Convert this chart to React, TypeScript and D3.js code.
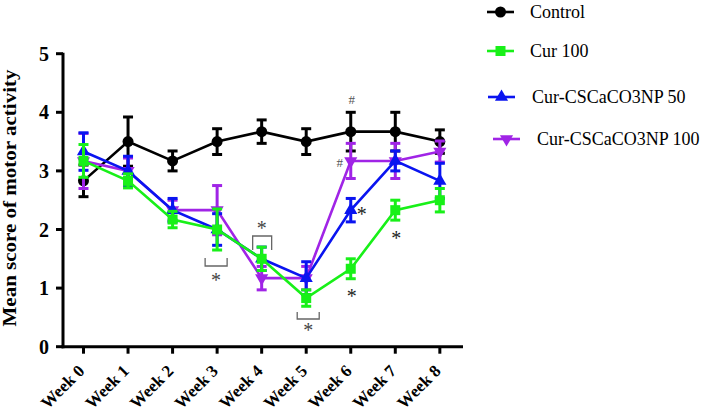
import React from "react";
import * as d3 from "d3";

const weeks = ["Week 0", "Week 1", "Week 2", "Week 3", "Week 4", "Week 5", "Week 6", "Week 7", "Week 8"];
const yTicks = [0, 1, 2, 3, 4, 5];

const controlMean = [2.83, 3.5, 3.17, 3.5, 3.67, 3.5, 3.67, 3.67, 3.5];
const controlErr = [0.27, 0.42, 0.17, 0.22, 0.2, 0.22, 0.33, 0.33, 0.2];
const cur100Mean = [3.17, 2.83, 2.17, 2.0, 1.5, 0.83, 1.33, 2.33, 2.5];
const cur100Err = [0.28, 0.12, 0.14, 0.35, 0.2, 0.14, 0.17, 0.17, 0.2];
const np50Mean = [3.33, 3.0, 2.33, 2.0, 1.5, 1.17, 2.33, 3.17, 2.83];
const np50Err = [0.32, 0.25, 0.2, 0.27, 0.2, 0.28, 0.2, 0.17, 0.3];
const np100Mean = [3.17, 3.0, 2.33, 2.33, 1.17, 1.17, 3.17, 3.17, 3.33];
const np100Err = [0.47, 0.22, 0.17, 0.42, 0.2, 0.2, 0.3, 0.3, 0.18];

const seriesNames = ["Control", "Cur 100", "Cur-CSCaCO3NP 50", "Cur-CSCaCO3NP 100"];
const seriesColors = ["#000000", "#18f018", "#0a14f0", "#a024e6"];
const seriesMarkers = ["circle", "square", "triUp", "triDown"];

const W = 709;
const H = 415;
const SERIF = "Liberation Serif, Times New Roman, DejaVu Serif, serif";

function Marker({ type, x, y, color }: { type: string; x: number; y: number; color: string }) {
  if (type === "circle") return <circle cx={x} cy={y} r={5.5} fill={color} />;
  if (type === "square") return <rect x={x - 5} y={y - 5} width={10} height={10} fill={color} />;
  const sym = d3.symbol().type(d3.symbolTriangle).size(75)();
  if (type === "triUp")
    return <path d={sym || ""} transform={`translate(${x},${y})`} fill={color} />;
  return <path d={sym || ""} transform={`translate(${x},${y}) rotate(180)`} fill={color} />;
}

function T(props: any) {
  const { style, ...rest } = props;
  return <text {...rest} style={{ fontFamily: SERIF, ...(style || {}) }} />;
}

export default function App() {
  const x = d3.scaleLinear().domain([-0.46, 8.52]).range([63, 463]);
  const y = d3.scaleLinear().domain([0, 5]).range([346.7, 53.7]);
  const idx = weeks.map((_, i) => i);

  const means = [controlMean, cur100Mean, np50Mean, np100Mean];
  const errs = [controlErr, cur100Err, np50Err, np100Err];
  const drawOrder = [0, 3, 2, 1];

  const line = d3
    .line<number>()
    .x((d, i) => x(i))
    .y((d) => y(d));

  const legendY = [12, 51, 97, 139];
  const legendX0 = [487, 487, 488, 493];
  const legendTextX = [530, 530, 532, 537];

  return (
    <svg width={W} height={H} style={{ position: "absolute", left: 0, top: 0 }}>
      <rect width={W} height={H} fill="#fff" />
      {/* axes */}
      <line x1={63} x2={63} y1={y(5) - 1} y2={y(0) + 1.5} stroke="#000" strokeWidth={3} />
      <line x1={61.5} x2={463} y1={y(0)} y2={y(0)} stroke="#000" strokeWidth={3} />
      {yTicks.map((t) => (
        <g key={t}>
          <line x1={56} x2={63} y1={y(t)} y2={y(t)} stroke="#000" strokeWidth={3} />
          <T x={49} y={y(t)} dy="0.35em" textAnchor="end" fontSize={20} fontWeight="bold">
            {t}
          </T>
        </g>
      ))}
      {idx.map((i) => (
        <g key={i}>
          <line x1={x(i)} x2={x(i)} y1={y(0)} y2={y(0) + 7} stroke="#000" strokeWidth={3} />
          <T
            transform={`translate(${x(i) + 2},${372}) rotate(-45)`}
            textAnchor="end"
            fontSize={17}
            fontWeight="bold"
          >
            {weeks[i]}
          </T>
        </g>
      ))}
      <T
        transform={`translate(16,198) rotate(-90)`}
        textAnchor="middle"
        fontSize={18}
        fontWeight="bold"
        textLength={257}
        lengthAdjust="spacingAndGlyphs"
      >
        Mean score of motor activity
      </T>

      {/* series */}
      {drawOrder.map((s) => (
        <g key={s}>
          <path d={line(means[s]) || ""} fill="none" stroke={seriesColors[s]} strokeWidth={2.6} />
          {means[s].map((m, i) => (
            <g key={i} stroke={seriesColors[s]} strokeWidth={3}>
              <line x1={x(i)} x2={x(i)} y1={y(m - errs[s][i])} y2={y(m + errs[s][i])} />
              <line x1={x(i) - 5} x2={x(i) + 5} y1={y(m + errs[s][i])} y2={y(m + errs[s][i])} />
              <line x1={x(i) - 5} x2={x(i) + 5} y1={y(m - errs[s][i])} y2={y(m - errs[s][i])} />
            </g>
          ))}
          {means[s].map((m, i) => (
            <Marker key={"m" + i} type={seriesMarkers[s]} x={x(i)} y={y(m)} color={seriesColors[s]} />
          ))}
        </g>
      ))}

      {/* annotations */}
      <T x={x(6) + 1} y={y(4) - 8} textAnchor="middle" fontSize={13} fill="#555">#</T>
      <T x={x(6) - 11} y={y(3.17) + 6} textAnchor="middle" fontSize={13} fill="#555">#</T>
      <T x={x(6) + 11} y={y(2.33) + 11} textAnchor="middle" fontSize={20} fill="#222">*</T>
      <T x={x(7) + 1} y={y(2.0) + 15} textAnchor="middle" fontSize={20} fill="#222">*</T>
      <T x={x(6) + 1} y={y(1.0) + 15} textAnchor="middle" fontSize={20} fill="#222">*</T>

      {/* brackets */}
      <path d={`M${x(3) - 12},${258} V${266} H${x(3) + 10} V${258}`} fill="none" stroke="#666" strokeWidth={1.3} />
      <T x={x(3) - 1} y={287} textAnchor="middle" fontSize={20} fill="#444">*</T>
      <path d={`M${x(4) - 9},${250} V${236} H${x(4) + 10} V${250}`} fill="none" stroke="#666" strokeWidth={1.3} />
      <T x={x(4)} y={235} textAnchor="middle" fontSize={20} fill="#444">*</T>
      <path d={`M${x(5) - 9},${312} V${319} H${x(5) + 13} V${312}`} fill="none" stroke="#666" strokeWidth={1.3} />
      <T x={x(5) + 2} y={337} textAnchor="middle" fontSize={20} fill="#444">*</T>

      {/* legend */}
      {seriesNames.map((n, s) => (
        <g key={n}>
          <line x1={legendX0[s]} x2={legendX0[s] + 27} y1={legendY[s]} y2={legendY[s]} stroke={seriesColors[s]} strokeWidth={2.6} />
          <Marker type={seriesMarkers[s]} x={legendX0[s] + 13.5} y={legendY[s]} color={seriesColors[s]} />
          <T x={legendTextX[s]} y={legendY[s]} dy="0.35em" fontSize={18} fill="#000">
            {n}
          </T>
        </g>
      ))}
    </svg>
  );
}
